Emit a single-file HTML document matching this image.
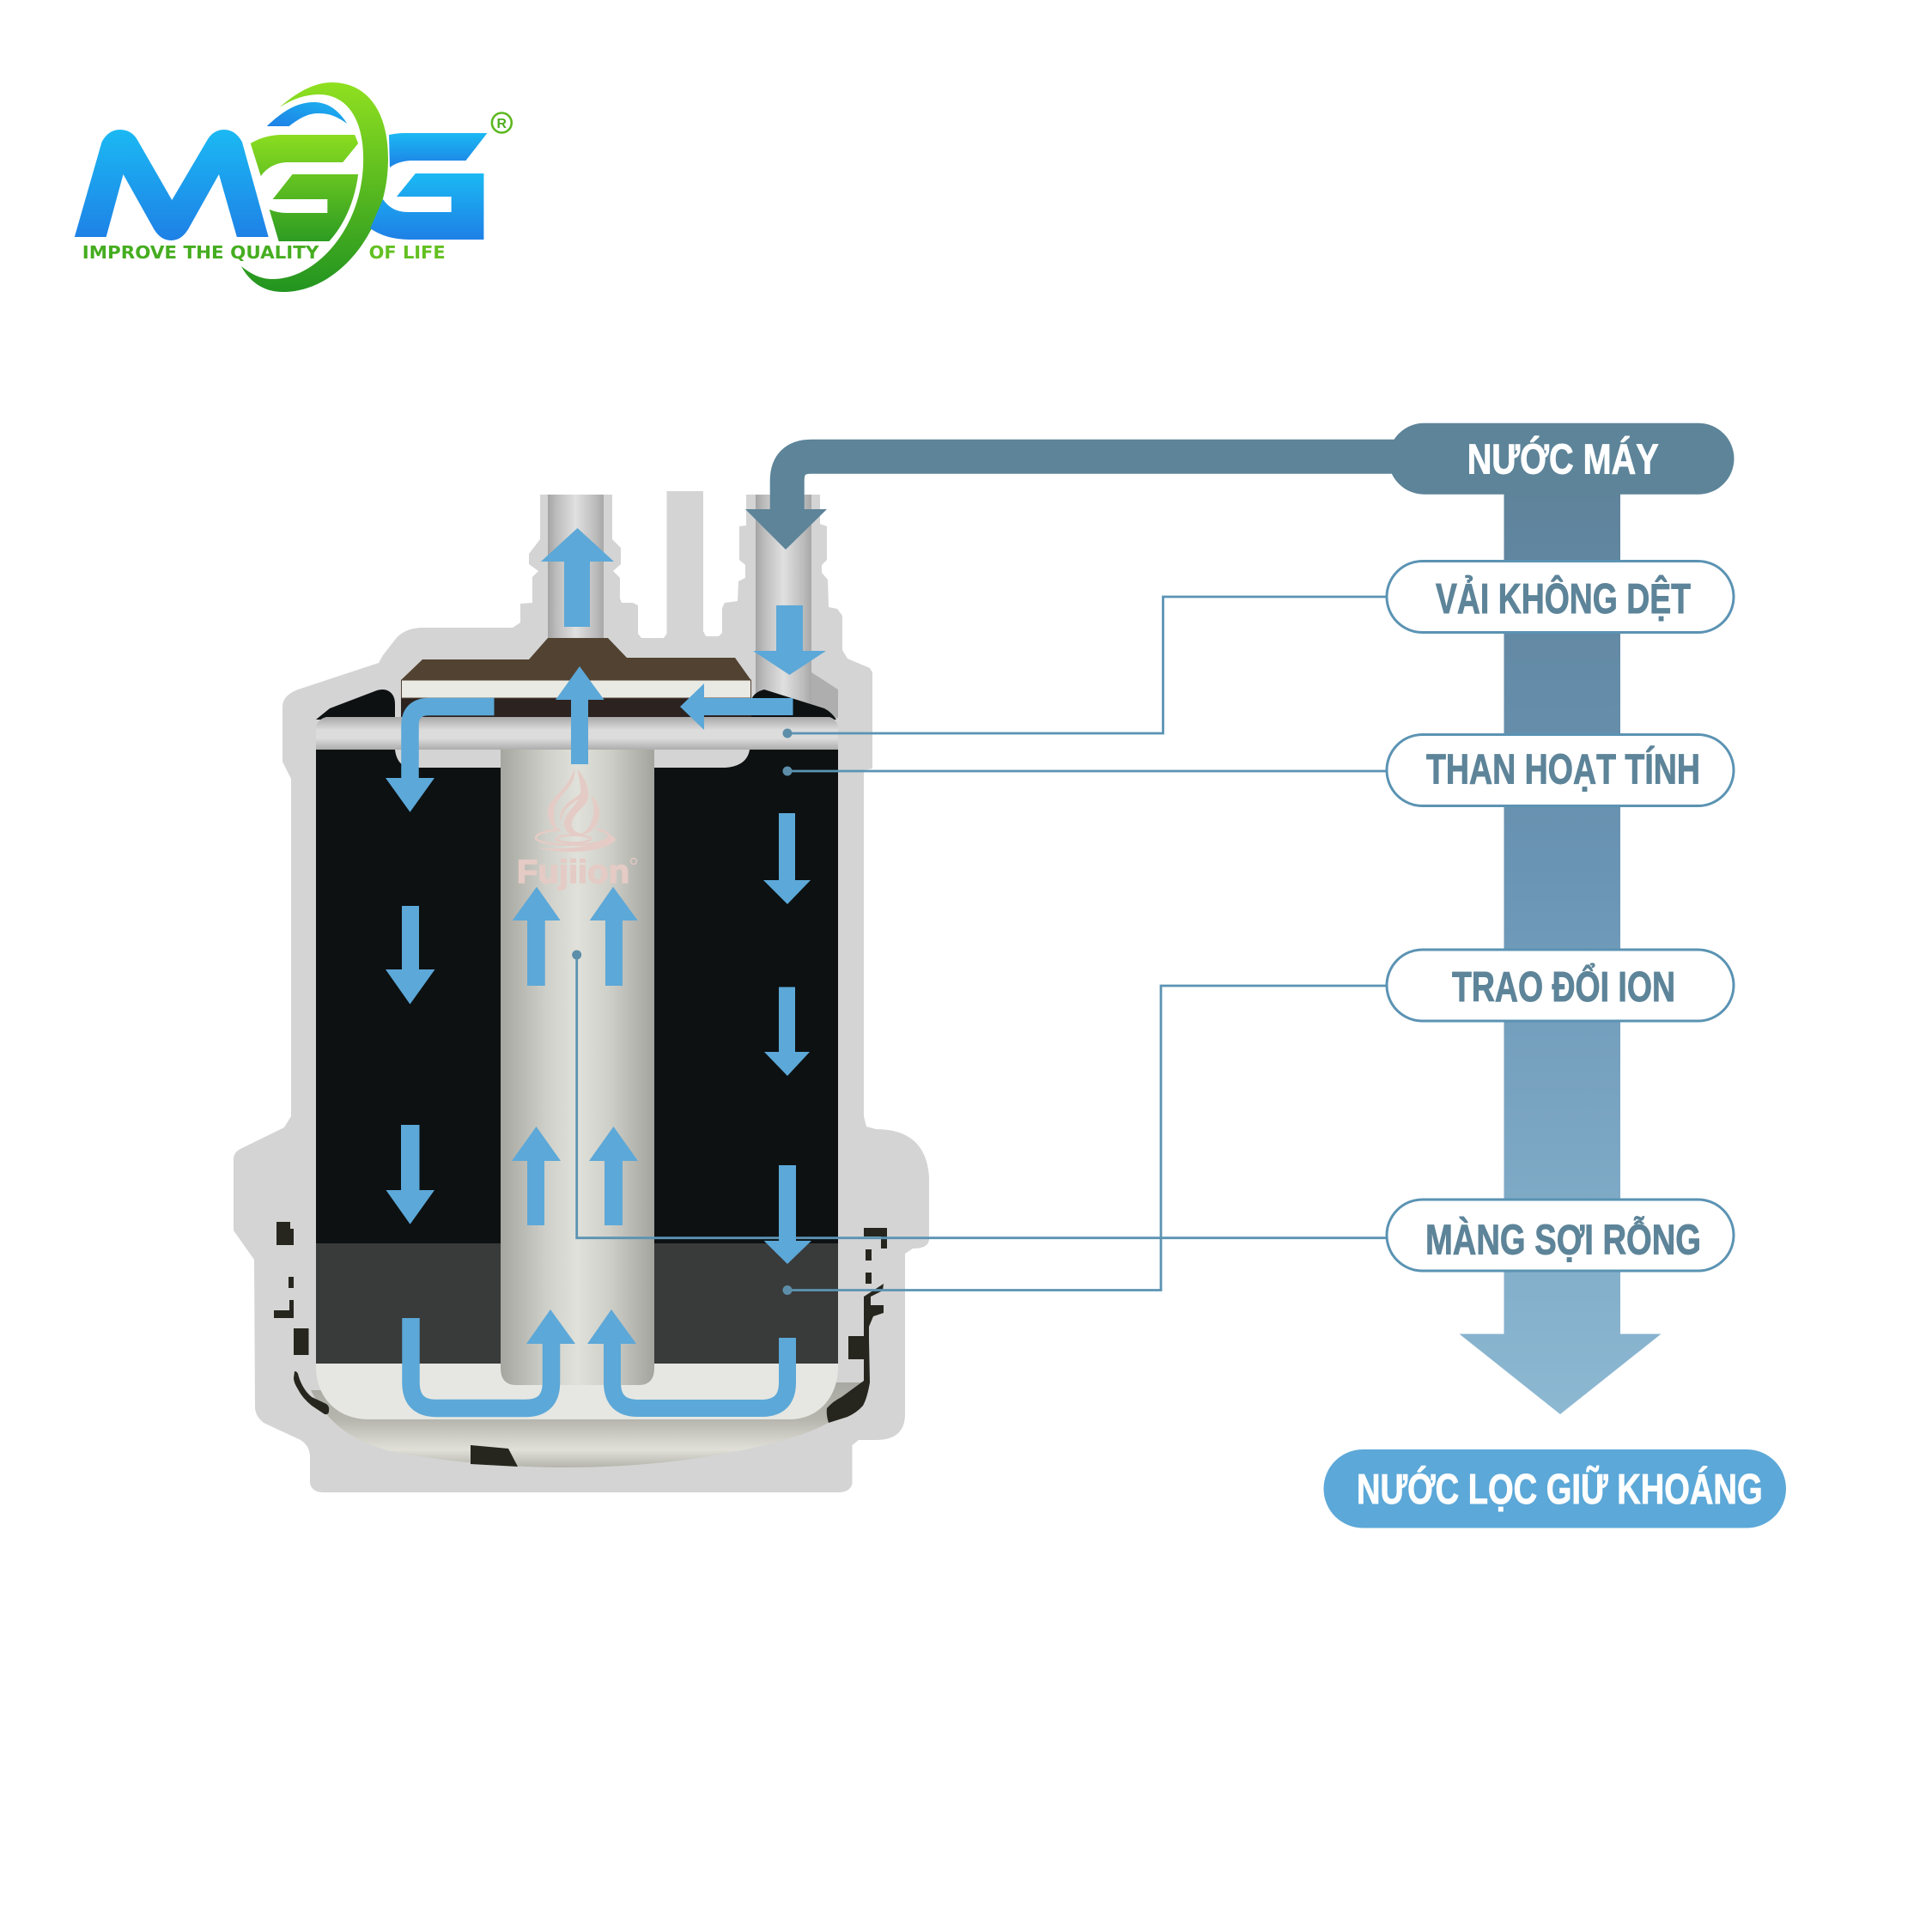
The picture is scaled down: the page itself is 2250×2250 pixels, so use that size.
<!DOCTYPE html>
<html><head><meta charset="utf-8"><style>html,body{margin:0;padding:0;background:#fff}svg{display:block}
.t{font-family:"Liberation Sans",sans-serif;font-weight:700;font-size:49px}</style></head><body>
<svg xmlns="http://www.w3.org/2000/svg" width="2250" height="2250" viewBox="0 0 2250 2250">
<defs>
<linearGradient id="bl" x1="0" y1="0" x2="0" y2="1"><stop offset="0" stop-color="#1bb9f3"/><stop offset="1" stop-color="#1e80e6"/></linearGradient>
<linearGradient id="bl2" x1="0" y1="1" x2="1" y2="0"><stop offset="0" stop-color="#1e7fe6"/><stop offset="1" stop-color="#1bb5f0"/></linearGradient>
<linearGradient id="gr" gradientUnits="userSpaceOnUse" x1="0" y1="150" x2="0" y2="285"><stop offset="0" stop-color="#90e020"/><stop offset="1" stop-color="#2a9a22"/></linearGradient>
<linearGradient id="gr2" gradientUnits="userSpaceOnUse" x1="0" y1="96" x2="0" y2="340"><stop offset="0" stop-color="#90e020"/><stop offset="1" stop-color="#229420"/></linearGradient>
<linearGradient id="pipe" x1="0" y1="0" x2="1" y2="0"><stop offset="0" stop-color="#a4a4a4"/><stop offset=".15" stop-color="#bcbcbc"/><stop offset=".5" stop-color="#e0e0e0"/><stop offset=".85" stop-color="#bcbcbc"/><stop offset="1" stop-color="#a8a8a8"/></linearGradient>
<linearGradient id="band" x1="0" y1="0" x2="0" y2="1"><stop offset="0" stop-color="#a8a8a8"/><stop offset=".4" stop-color="#dcdcdc"/><stop offset=".65" stop-color="#dcdcdc"/><stop offset="1" stop-color="#adadad"/></linearGradient>
<linearGradient id="tube" x1="0" y1="0" x2="1" y2="0"><stop offset="0" stop-color="#a6a6a0"/><stop offset=".3" stop-color="#cfd0c9"/><stop offset=".5" stop-color="#e0e1da"/><stop offset=".7" stop-color="#cfd0c9"/><stop offset="1" stop-color="#a4a49e"/></linearGradient>
<linearGradient id="bowl" gradientUnits="userSpaceOnUse" x1="0" y1="1610" x2="0" y2="1709"><stop offset="0" stop-color="#a8a9a2"/><stop offset=".44" stop-color="#b6b6ae"/><stop offset=".79" stop-color="#e0e0d9"/><stop offset="1" stop-color="#b5b5ad"/></linearGradient>
<linearGradient id="big" gradientUnits="userSpaceOnUse" x1="0" y1="575" x2="0" y2="1647"><stop offset="0" stop-color="#5f839b"/><stop offset=".4" stop-color="#6a94b4"/><stop offset="1" stop-color="#8cb8d2"/></linearGradient>
</defs>

<!-- logo -->
<g transform="translate(50 0) scale(.995 1) translate(-50 0)">
<path d="M87 276 L119 165 Q127 151 140 151 Q153 151 160 162 L201 233 L243 162 Q250 151 262 151 Q275 151 283 165 L314 276 L277 276 L256 203 L220 267 Q212 280 200 280 Q188 280 180 267 L144 203 L124 276Z" fill="url(#bl)"/>
<path d="M293 167 Q308 158 327 157 L415 157 L419 167 L401 189 L335 189 Q316 190 305 205Z" fill="url(#gr)"/>
<path d="M342 203 L419 203 Q415 233 402 257 Q395 270 385 281 L326 281 L315 244 Q325 248 335 248 L383 248 L383 232 L319 232Z" fill="url(#gr)"/>
<path d="M327 125 C350 105 370 96 388 96 C430 96 454 130 454 185 C454 270 395 340 331 340 C310 340 293 330 282 310 C295 320 305 325 319 325 C370 325 425 265 425 185 C425 135 403 110 373 110 C358 110 342 115 327 125Z" fill="url(#gr2)"/>
<path d="M312 147 C330 130 347 119 367 119 C385 119 397 130 406 144 C393 135 385 132 372 132 C360 132 350 138 338 147Z" fill="url(#bl2)"/>
<path d="M455 157 Q465 155 473 155 L570 155 L545 187 L480 187 Q465 188 456 195Z" fill="url(#bl)"/>
<path d="M486 202 L566 202 L566 279 L479 279 Q452 279 433 266 L448 232 Q458 247 477 247 L528 247 L528 229 L464 229Z" fill="url(#bl)"/>
<text x="96" y="301" font-family="DejaVu Sans, sans-serif" font-weight="700" font-size="20" fill="#45ad20" textLength="277" lengthAdjust="spacingAndGlyphs">IMPROVE THE QUALITY</text>
<text x="431.5" y="301" font-family="DejaVu Sans, sans-serif" font-weight="700" font-size="20" fill="#62c020" textLength="89.5" lengthAdjust="spacingAndGlyphs">OF LIFE</text>
<circle cx="587" cy="143" r="11.5" fill="none" stroke="#5cb820" stroke-width="2.6"/>
<text x="587" y="149" text-anchor="middle" font-family="Liberation Sans, sans-serif" font-weight="700" font-size="16" fill="#4eae20">R</text>
</g>

<!-- filter silhouette -->
<path d="M629 576 L629 628 L616 645 L616 657 L627 665 L620 672 L620 702 L606 703 L606 725 L597 731 L490 731 Q470 732 460 745 L446 763 L441 772 L347 803 Q329 810 329 823 L329 887 L339 907 L339 1300 L331 1313 L280 1338 Q272 1342 272 1350 L272 1433 L296 1467 L297 1640 Q298 1650 307 1657 L350 1677 Q361 1684 361 1697 L361 1727 Q363 1738 377 1738 L976 1738 Q990 1738 992.5 1728 L992.5 1683 L1000 1677 L1020 1677 Q1054 1677 1054 1647 L1054 1460 L1063 1454 Q1082 1454 1082 1443 L1082 1370 Q1078 1315 1020 1315 L1009 1312 L1006 1300 L1006 897 L1016 895 L1016 783 L1013 778 L987 767 L981 757 L981 717 L975 709 L965 707 L964 675 L957 667 L957 658 L963 652 L963 613 L955 610 L955 576 L869 576 L869 612 L861 613 L861 652 L868 658 L868 673 L860 677 L859 700 L844 702 L841 708 L841 737 L837 741 L822 741 L819 735 L819 572 L776.5 572 L776.5 738 L773 743 L747 743 L743 738 L743 705 L737 702 L724 702 L722 697 L722 673 L714 665 L723 657 L723 638 L713 628 L713 576Z" fill="#d4d4d4"/>

<!-- pipes -->
<rect x="638" y="576" width="65" height="175" fill="url(#pipe)"/>
<rect x="880" y="576" width="65" height="260" fill="url(#pipe)"/>
<polygon points="945,783 976,803 976,836 945,836" fill="#aeaeae"/>

<!-- cap -->
<polygon points="492,768 616,768 638,743 708,743 730,766 856,766 874.5,792 467,792" fill="#524232"/>
<rect x="467" y="813" width="408" height="24" fill="#2c2220"/>
<rect x="467.5" y="792" width="407" height="21" fill="#eaeae4" stroke="#524232" stroke-width="1"/>

<!-- black body & shoulders -->
<path d="M368 838 L384 825 L439 804 Q446 802 451 804 Q460 808 460 820 L460 838Z" fill="#0d1112"/>
<path d="M875 838 L875 815 Q878 806 890 803 L960 825 Q968 829 974 838Z" fill="#0d1112"/>
<rect x="368" y="870" width="608" height="578" fill="#0d1112"/>
<rect x="368" y="1448" width="608" height="140" fill="#393a3a"/>
<!-- bowl -->
<path d="M362 1619 H376 L975 1610 H1013 C1000 1640 960 1665 913 1677 C850 1695 760 1709 660 1709 C590 1709 520 1702 463 1692 C420 1682 385 1665 362 1619Z" fill="url(#bowl)"/>
<path d="M368 1588 H976 V1592 C976 1625 955 1653 919 1653 H430 C390 1653 368 1625 368 1592Z" fill="#e6e7e2"/>
<!-- band -->
<path d="M368 873 L368 850 Q368 838 380 835 L966 835 Q976 838 976 850 L976 873Z" fill="url(#band)"/>
<path d="M460 873 Q462 890 475 894 H845 Q870 892 873 873Z" fill="#d4d4d4"/>
<!-- centre tube -->
<path d="M583 873 H762 V1593 Q762 1613 744 1613 H601 Q583 1613 583 1593Z" fill="url(#tube)"/>
<!-- Fujiion watermark -->
<g fill="#e5cbc5">
<path d="M669 895 C662 920 638 930 638 945 C638 958 645 965 650 968 C645 960 644 950 646 940 C650 925 672 915 669 895Z"/>
<path d="M672 895 C680 905 686 915 685 928 C684 940 668 945 666 958 C665 968 672 970 680 971 C670 975 658 972 657 960 C656 945 680 935 676 915 C675 908 673 900 672 895Z"/>
<path d="M678 922 C670 932 650 935 653 957 C655 945 660 940 668 935 C674 930 677 928 678 922Z"/>
<path d="M688 926 C700 935 702 955 690 966 C686 970 682 972 676 972 C690 965 696 945 688 926Z"/>
<path d="M625 987 C650 995 705 994 717 978 C715 974 712 973 709 972 C712 982 660 992 625 987Z"/>
</g>
<g fill="none" stroke="#e5cbc5" stroke-width="2.5">
<path d="M652 966 C632 968 624 972 624 976 C626 982 650 984 668 984 C690 984 708 980 708 974"/>
<path d="M695 966 C702 967 708 970 710 973"/>
<ellipse cx="668" cy="977" rx="20" ry="4.5"/>
</g>
<text x="602" y="1028" font-family="Liberation Sans, sans-serif" font-weight="700" font-size="38" fill="#e5cbc5" stroke="#e5cbc5" stroke-width="1.4" textLength="131" lengthAdjust="spacingAndGlyphs">Fujiion</text>
<circle cx="738" cy="1003" r="3.5" fill="none" stroke="#e5cbc5" stroke-width="1.2"/>

<!-- broken black bits -->
<g fill="#26261f">
<polygon points="322,1423 338,1423 338,1431 342,1431 342,1450 322,1450"/>
<rect x="336" y="1487" width="6" height="13"/>
<polygon points="337,1514 342,1514 342,1535 319,1535 319,1526 337,1526"/>
<rect x="342" y="1547" width="17.5" height="31"/>
<path d="M343 1597 Q346 1597 347 1600 Q349 1608 353 1615 Q357 1622 363 1627 L380 1635 Q384 1638 383 1643 Q383 1648 378 1647 L363 1637 Q352 1628 347 1618 Q342 1610 342 1605Z"/>
<polygon points="548,1683 592,1687 603,1708 548,1705"/>
<polygon points="1006,1430 1033,1430 1033,1454 1026,1454 1026,1440 1006,1440"/>
<rect x="1008" y="1455" width="7" height="13"/>
<rect x="1008" y="1482" width="7" height="13"/>
<path d="M1026 1497 L1029 1495 L1028 1503 L1014 1510 L1014 1520 L1029 1520 L1029 1529 L1017 1533 L1012 1545 L1012 1560 L1013 1610 Q1010 1628 1005 1637 Q998 1645 987 1650 L965 1657 Q962 1648 963 1640 Q970 1632 980 1627 L1006 1608 L1006 1583 L988 1583 L988 1556 L1006 1556 L1006 1510Z"/>
</g>

<!-- big process arrow -->
<polygon points="1751.5,575 1887,575 1887,1553.5 1934.5,1553.5 1817,1647 1699.5,1553.5 1751.5,1553.5" fill="url(#big)"/>

<!-- inlet -->
<path d="M1640 531.7 H945 Q916.7 531.7 916.7 560 V595" fill="none" stroke="#5d8499" stroke-width="40"/>
<polygon points="868,593 963,593 915,640" fill="#5d8499"/>

<!-- connector lines -->
<g fill="none" stroke="#5b93b3" stroke-width="2.8">
<path d="M917 854 H1354.5 V695 H1615"/>
<path d="M917 898 H1615"/>
<path d="M671.7 1112 V1441.7 H1615"/>
<path d="M917 1502.5 H1352 V1148 H1615"/>
</g>
<g fill="#5d8ea9">
<circle cx="917" cy="854" r="5.5"/><circle cx="917" cy="898" r="5.5"/><circle cx="671.7" cy="1112" r="5.5"/><circle cx="917" cy="1502.5" r="5.5"/>
</g>

<!-- blue flow arrows -->
<g fill="#5ca8d8">
<polygon points="672.5,615 715,654 687,654 687,730 657,730 657,654 630,654"/>
<polygon points="904,705 935,705 935,758 962,758 919.4,786 877,758 904,758"/>
<polygon points="675,776 703.6,815 685,815 685,890 665,890 665,815 647,815"/>
<polygon points="792,823 820,796 820,813 923.5,813 923.5,833 820,833 820,850"/>
<polygon points="449,906 506,906 477.5,945.7"/>
<polygon points="907,947 926,947 926,1025 944,1025 917,1053 889,1025 907,1025"/>
<polygon points="907,1149.5 926,1149.5 926,1225 943,1225 917,1253 890,1225 907,1225"/>
<polygon points="907,1357 927,1357 927,1445 945,1445 917,1472 889.6,1445 907,1445"/>
<polygon points="468,1055 488,1055 488,1129 506.5,1129 477.5,1169.5 449,1129 468,1129"/>
<polygon points="467,1310 488.5,1310 488.5,1386 506,1386 477.6,1425.7 449.5,1386 467,1386"/>
<polygon points="625,1032.7 652.7,1072 634.7,1072 634.7,1148 614,1148 614,1072 596.7,1072"/>
<polygon points="714,1032.7 742.7,1072 725,1072 725,1148 705,1148 705,1072 686.7,1072"/>
<polygon points="624.5,1312 653,1352 634,1352 634,1427 614,1427 614,1352 596,1352"/>
<polygon points="714.5,1312 743,1352 725,1352 725,1427 704,1427 704,1352 686,1352"/>
<polygon points="641,1525 670,1565 613,1565"/>
<polygon points="712,1525 741,1565 684,1565"/>
</g>
<g fill="none" stroke="#5ca8d8">
<path d="M575.5 823 H500 Q477.5 823 477.5 845 V908" stroke-width="20.5"/>
<path d="M478.5 1535 V1610 Q478.5 1640 508 1640 H612 Q642 1640 642 1610 V1563" stroke-width="20.5"/>
<path d="M713 1563 V1610 Q713 1640 743 1640 H887 Q917 1640 917 1610 V1558" stroke-width="20"/>
</g>

<!-- pills -->
<rect x="1617" y="492.7" width="402.5" height="83" rx="41.5" fill="#5d8499"/>
<g fill="#fff" stroke="#5b93b3" stroke-width="3">
<rect x="1615" y="653.5" width="404" height="83" rx="41.5"/>
<rect x="1615" y="855.5" width="404" height="83" rx="41.5"/>
<rect x="1615" y="1106" width="404" height="83" rx="41.5"/>
<rect x="1615" y="1397" width="404" height="83" rx="41.5"/>
</g>
<rect x="1541.5" y="1688" width="538.5" height="91.5" rx="45.7" fill="#5ca8d8"/>

<g class="t" fill="#fff" stroke="#fff" stroke-width=".9">
<text class="t" x="1708.7" y="551.7" textLength="223" lengthAdjust="spacingAndGlyphs">NƯỚC MÁY</text>
<text class="t" x="1580" y="1751" textLength="472.6" lengthAdjust="spacingAndGlyphs">NƯỚC LỌC GIỮ KHOÁNG</text>
</g>
<g class="t" fill="#5d8499" stroke="#5d8499" stroke-width=".9">
<text class="t" x="1672" y="714" textLength="297" lengthAdjust="spacingAndGlyphs">VẢI KHÔNG DỆT</text>
<text class="t" x="1661" y="912.7" textLength="319" lengthAdjust="spacingAndGlyphs">THAN HOẠT TÍNH</text>
<text class="t" x="1691" y="1166" textLength="260" lengthAdjust="spacingAndGlyphs">TRAO ĐỔI ION</text>
<text class="t" x="1660" y="1460.4" textLength="321" lengthAdjust="spacingAndGlyphs">MÀNG SỢI RỖNG</text>
</g>
</svg>
</body></html>
